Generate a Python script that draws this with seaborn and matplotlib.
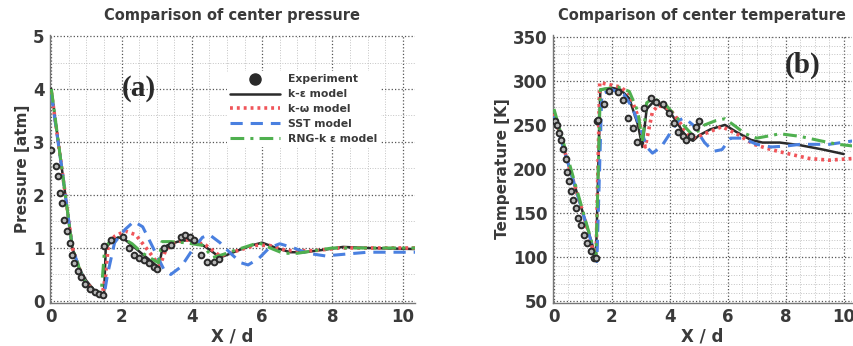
import numpy as np
import seaborn as sns
import matplotlib.pyplot as plt
from matplotlib.lines import Line2D
from matplotlib.ticker import MultipleLocator

# ---- data ----
# (a) center pressure [atm]
p_exp_x = [0.0, 0.12, 0.19, 0.26, 0.3, 0.36, 0.45, 0.52, 0.59, 0.66, 0.77, 0.85, 0.96, 1.09, 1.23, 1.37,
           1.46, 1.49, 1.7, 2.03, 2.2, 2.34, 2.5, 2.64, 2.78, 2.91, 3.02, 3.2, 3.4, 3.68, 3.8, 3.95, 4.05,
           4.25, 4.44, 4.63, 4.77]
p_exp_y = [2.85, 2.55, 2.36, 2.04, 1.85, 1.52, 1.32, 1.09, 0.87, 0.71, 0.57, 0.45, 0.32, 0.23, 0.17, 0.13,
           0.11, 1.04, 1.15, 1.21, 1.0, 0.87, 0.81, 0.78, 0.72, 0.65, 0.6, 1.0, 1.06, 1.2, 1.24, 1.2, 1.15,
           0.87, 0.74, 0.74, 0.8]

p_ke_x = [0, 0.3, 0.6, 0.8, 1.0, 1.2, 1.4, 1.5, 1.55, 1.7, 1.9, 2.05, 2.3, 2.6, 2.9, 3.05, 3.15, 3.3, 3.6,
          3.9, 4.2, 4.5, 4.8, 5.0, 5.3, 5.7, 6.0, 6.4, 6.8, 7.2, 7.8, 8.3, 9.0, 10.35]
p_ke_y = [4.0, 2.5, 1.0, 0.6, 0.38, 0.22, 0.13, 0.1, 1.0, 1.12, 1.2, 1.18, 1.05, 0.88, 0.72, 0.62, 0.95,
          1.05, 1.12, 1.15, 1.1, 0.97, 0.82, 0.87, 0.95, 1.05, 1.1, 1.0, 0.92, 0.92, 0.97, 1.02, 1.0, 0.98]

p_kw_x = [0, 0.3, 0.6, 0.9, 1.2, 1.45, 1.55, 1.62, 1.8, 2.1, 2.4, 2.7, 2.95, 3.1, 3.25, 3.5, 3.8, 4.0,
          4.4, 4.8, 5.3, 5.8, 6.2, 6.7, 7.5, 8.2, 9.0, 10.35]
p_kw_y = [3.95, 2.5, 1.0, 0.42, 0.2, 0.12, 0.5, 1.05, 1.22, 1.32, 1.25, 1.0, 0.78, 0.68, 0.95, 1.1, 1.15,
          1.15, 1.05, 0.85, 0.95, 1.05, 1.05, 0.95, 0.95, 1.0, 1.0, 1.0]

p_sst_x = [0, 0.3, 0.6, 0.9, 1.2, 1.5, 1.6, 1.8, 2.1, 2.35, 2.6, 2.9, 3.2, 3.4, 3.7, 4.0, 4.3, 4.5, 4.8,
           5.1, 5.4, 5.6, 5.9, 6.2, 6.5, 6.9, 7.3, 7.8, 8.3, 9.0, 10.35]
p_sst_y = [3.9, 2.5, 1.0, 0.42, 0.2, 0.1, 0.5, 1.1, 1.35, 1.5, 1.4, 1.0, 0.6, 0.5, 0.65, 0.95, 1.2, 1.25,
           1.1, 0.9, 0.72, 0.68, 0.8, 1.0, 1.08, 1.0, 0.9, 0.85, 0.88, 0.92, 0.92]

p_rng_x = [0, 0.3, 0.6, 0.9, 1.2, 1.42, 1.52, 1.7, 2.0, 2.3, 2.6, 2.9, 3.05, 3.15, 3.4, 3.8, 4.3, 4.6,
           4.9, 5.2, 5.9, 6.3, 6.6, 7.0, 8.0, 9.0, 10.35]
p_rng_y = [4.0, 2.5, 1.0, 0.42, 0.2, 0.15, 1.0, 1.15, 1.2, 1.08, 0.9, 0.78, 0.72, 1.12, 1.12, 1.1, 1.05,
           0.82, 0.88, 0.95, 1.1, 0.98, 0.9, 0.9, 1.0, 1.0, 1.0]

# (b) center temperature [K]
t_exp_x = [0.02, 0.09, 0.17, 0.25, 0.32, 0.4, 0.46, 0.52, 0.58, 0.66, 0.75, 0.83, 0.92, 1.04, 1.15, 1.27,
           1.38, 1.44, 1.47, 1.51, 1.73, 1.91, 2.2, 2.4, 2.54, 2.72, 2.88, 3.11, 3.34, 3.52, 3.75, 3.98,
           4.15, 4.29, 4.44, 4.55, 4.72, 4.9, 5.01]
t_exp_y = [255, 250, 241, 233, 223, 211, 197, 186, 175, 165, 156, 145, 136, 125, 116, 107, 99, 99, 255,
           256, 274, 288, 287, 278, 258, 246, 231, 269, 280, 276, 274, 263, 252, 242, 237, 233, 237, 248,
           254]

t_ke_x = [0, 0.5, 1.0, 1.45, 1.6, 2.0, 2.3, 2.6, 2.9, 3.05, 3.2, 3.4, 3.8, 4.1, 4.4, 4.6, 4.8, 5.0, 5.4,
          5.9, 6.3, 6.8, 7.2, 7.8, 8.5, 9.3, 10.0]
t_ke_y = [262, 205, 150, 100, 290, 292, 290, 280, 250, 225, 268, 275, 270, 260, 245, 235, 232, 238, 245,
          250, 242, 233, 230, 230, 227, 222, 217]

t_kw_x = [0, 0.5, 1.0, 1.45, 1.58, 2.0, 2.3, 2.6, 2.9, 3.15, 3.4, 3.6, 4.0, 4.3, 4.6, 4.9, 5.2, 5.8,
          6.3, 6.9, 7.5, 8.0, 8.8, 9.5, 10.35]
t_kw_y = [263, 205, 150, 95, 298, 295, 293, 285, 260, 225, 265, 272, 268, 255, 240, 235, 240, 248, 240,
          228, 222, 218, 212, 210, 212]

t_sst_x = [0, 0.5, 1.0, 1.48, 1.65, 2.0, 2.4, 2.7, 3.0, 3.2, 3.4, 3.7, 4.0, 4.3, 4.5, 4.8, 5.2, 5.5,
           5.8, 6.1, 6.5, 7.0, 7.5, 8.0, 8.5, 9.5, 10.35]
t_sst_y = [260, 205, 150, 95, 285, 290, 285, 270, 245, 225, 218, 225, 240, 255, 258, 250, 230, 220, 222,
           235, 235, 228, 225, 226, 228, 228, 232]

t_rng_x = [0, 0.5, 1.0, 1.45, 1.6, 2.2, 2.6, 2.9, 3.05, 3.2, 3.4, 3.8, 4.2, 4.6, 4.8, 5.2, 5.6, 5.9,
           6.2, 6.6, 7.0, 7.5, 7.8, 8.5, 9.2, 9.8, 10.35]
t_rng_y = [268, 210, 152, 100, 290, 293, 288, 265, 230, 275, 280, 275, 260, 245, 238, 250, 255, 257,
           250, 240, 235, 238, 240, 237, 232, 228, 226]

labels = ['Experiment', 'k-ε model', 'k-ω model', 'SST model', 'RNG-k ε model']

sns.set_style('white')
plt.rcParams['font.family'] = ['DejaVu Sans']

txt = '#3a3a3a'
styles = {
    'k-ε model': dict(color='#2b2b2b', lw=1.8, ls='-'),
    'k-ω model': dict(color='#f0555a', lw=2.6, ls=(0, (0.8, 1.1))),
    'SST model': dict(color='#4a80e0', lw=2.2, ls=(0, (4, 2.6))),
    'RNG-k ε model': dict(color='#4fb04f', lw=2.2, ls=(0, (4.5, 2, 1, 2))),
}

fig = plt.figure(figsize=(8.54, 3.46), dpi=100)
ax1 = fig.add_axes([0.058, 0.124, 0.428, 0.775])
ax2 = fig.add_axes([0.647, 0.124, 0.351, 0.775])


def draw(ax, ex, ey, series):
    sns.scatterplot(x=ex, y=ey, ax=ax, s=17, color='#b8b8b8', edgecolor='#2a2a2a',
                    linewidth=1.4, label='Experiment', zorder=4)
    for name, (xs, ys) in series.items():
        st = styles[name]
        sns.lineplot(x=xs, y=ys, ax=ax, estimator=None, sort=False, label=name,
                     color=st['color'], linewidth=st['lw'], linestyle=st['ls'], zorder=3)


draw(ax1, p_exp_x, p_exp_y, {'k-ε model': (p_ke_x, p_ke_y), 'k-ω model': (p_kw_x, p_kw_y),
                              'SST model': (p_sst_x, p_sst_y), 'RNG-k ε model': (p_rng_x, p_rng_y)})
draw(ax2, t_exp_x, t_exp_y, {'k-ε model': (t_ke_x, t_ke_y), 'k-ω model': (t_kw_x, t_kw_y),
                              'SST model': (t_sst_x, t_sst_y), 'RNG-k ε model': (t_rng_x, t_rng_y)})

ax1.set_xlim(-0.05, 10.35)
ax1.set_ylim(-0.04, 5.02)
ax1.yaxis.set_major_locator(MultipleLocator(1))
ax1.yaxis.set_minor_locator(MultipleLocator(0.5))
ax2.set_xlim(-0.05, 10.3)
ax2.set_ylim(48, 352)
ax2.yaxis.set_major_locator(MultipleLocator(50))
ax2.yaxis.set_minor_locator(MultipleLocator(10))

for ax, title, ylab in [(ax1, 'Comparison of center pressure', 'Pressure [atm]'),
                        (ax2, 'Comparison of center temperature', 'Temperature [K]')]:
    ax.xaxis.set_major_locator(MultipleLocator(2))
    ax.xaxis.set_minor_locator(MultipleLocator(0.5))
    ax.grid(which='major', color='#555555', ls=':', lw=0.9)
    ax.grid(which='minor', color='#c4c4c4', ls=':', lw=0.7)
    ax.set_axisbelow(True)
    for s in ['top', 'right']:
        ax.spines[s].set_visible(False)
    for s in ['left', 'bottom']:
        ax.spines[s].set_color('#777777')
        ax.spines[s].set_linewidth(1.0)
    ax.tick_params(which='both', direction='in', colors='#555555', labelcolor=txt)
    ax.tick_params(which='major', length=4, labelsize=12)
    ax.tick_params(which='minor', length=2.5)
    for lab in ax.get_xticklabels() + ax.get_yticklabels():
        lab.set_fontweight('bold')
    ax.set_title(title, fontsize=10.5, fontweight='bold', color=txt, pad=11)
    ax.set_xlabel('X / d', fontsize=12, fontweight='bold', color=txt, labelpad=1)
    ax.set_ylabel(ylab, fontsize=11, fontweight='bold', color=txt, labelpad=2)

ax1.text(2.5, 4.0, '(a)', fontsize=21, fontweight='bold', family='Liberation Serif',
         color='#2a2a2a', ha='center', va='center', zorder=6)
ax2.text(8.6, 318, '(b)', fontsize=21, fontweight='bold', family='Liberation Serif',
         color='#2a2a2a', ha='center', va='center', zorder=6)

handles, labs = ax1.get_legend_handles_labels()
handles[0] = Line2D([], [], ls='none', marker='o', ms=8, color='#2a2a2a')
leg = ax1.legend(handles, labs, loc='upper left', bbox_to_anchor=(0.47, 0.885), frameon=True,
                 facecolor='white', edgecolor='none', framealpha=1, handlelength=4.6,
                 handletextpad=0.8, borderpad=0.3, labelspacing=0.45,
                 prop={'size': 7.8, 'weight': 'bold'})
for t in leg.get_texts():
    t.set_color(txt)
leg.set_zorder(5)
ax2.get_legend().remove()

fig.savefig('out.png', dpi=100)
